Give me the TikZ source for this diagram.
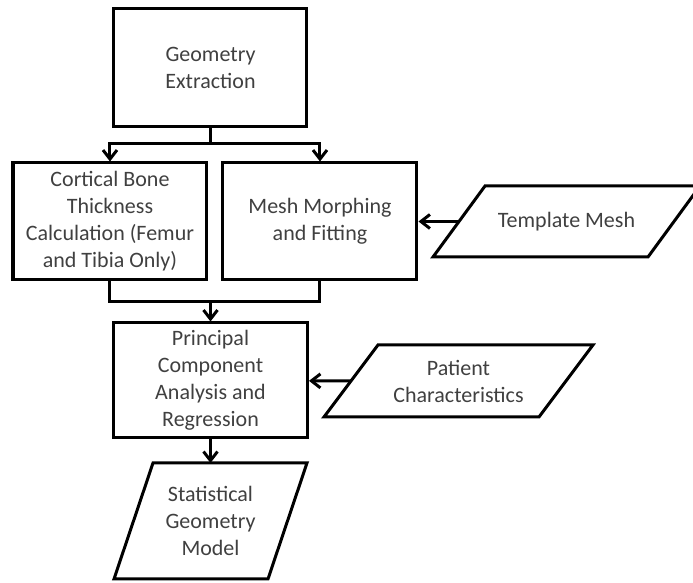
\documentclass[tikz,border=0pt]{standalone}
\usepackage{fontspec}
\setmainfont{Carlito}
\usetikzlibrary{arrows.meta}

% slanted data box drawn round a named node: #1 node, #2 slant
\newcommand{\slantbox}[2]{%
	\draw ([xshift=#2]#1.north west) -- (#1.north east)
		-- ([xshift=-#2]#1.south east) -- (#1.south west) -- cycle;
	\coordinate (#1-in) at ([xshift=#2/2]#1.west);}

\begin{document}
\begin{tikzpicture}[x=0.5pt,y=-0.5pt,line width=1.5pt,
	>={Straight Barb[length=4.5pt,width=7pt]}]
	\useasboundingbox (0,0) rectangle (693,583);

	\begin{scope}[every node/.style={draw,align=center,text=black!75,
			font=\fontsize{11}{13.5}\selectfont,inner sep=0pt}]
		\node [minimum width=96.5pt,minimum height=59pt] (geo) at (210.5,68) {Geometry\\Extraction};
		\node [minimum width=97pt,minimum height=58.5pt] (cort) at (110,221.5) {Cortical Bone\\Thickness\\Calculation (Femur\\and Tibia Only)};
		\node [minimum width=97pt,minimum height=58.5pt] (mesh) at (320,221.5) {Mesh Morphing\\and Fitting};
		\node [minimum width=97pt,minimum height=57.5pt] (pca) at (210.5,380.5) {Principal\\Component\\Analysis and\\Regression};
	\end{scope}

	\begin{scope}[every node/.style={align=center,text=black!75,
			font=\fontsize{11}{13.5}\selectfont,inner sep=0pt,outer sep=0pt}]
		\node [minimum width=133.5pt,minimum height=35.5pt] (tmpl) at (566.5,221.5) {Template Mesh};
		\node [minimum width=134.5pt,minimum height=36pt] (pat) at (458.5,381) {Patient\\Characteristics};
		\node [minimum width=96.5pt,minimum height=58pt] (stat) at (210.5,521) {Statistical\\Geometry\\Model};
	\end{scope}
	\slantbox{tmpl}{26pt}
	\slantbox{pat}{27pt}
	\slantbox{stat}{19.5pt}

	\coordinate (split) at (210.5,144);
	\coordinate (merge) at (210.5,302);

	\draw (geo) -- (split);
	\draw [->] (split) -| (cort);
	\draw [->] (split) -| (mesh);
	\draw (cort.south) |- (merge) -| (mesh.south);
	\draw [->] (merge) -- (pca);
	\draw [->] (tmpl-in) -- (mesh);
	\draw [->] (pat-in) -- (pca);
	\draw [->] (pca) -- (stat);
\end{tikzpicture}
\end{document}
